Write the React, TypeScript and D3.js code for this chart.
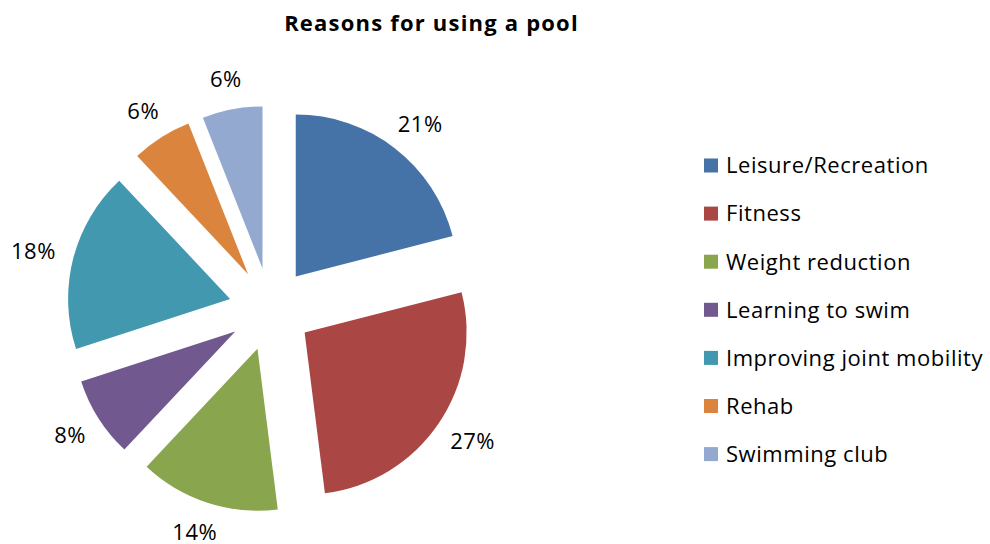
import React from "react";
import * as d3 from "d3";

const categories = [
  "Leisure/Recreation",
  "Fitness",
  "Weight reduction",
  "Learning to swim",
  "Improving joint mobility",
  "Rehab",
  "Swimming club",
];
const values = [21, 27, 14, 8, 18, 6, 6];
const colors = ["#4572A7", "#AA4643", "#89A54E", "#71588F", "#4198AF", "#DB843D", "#93A9CF"];
const title = "Reasons for using a pool";

const W = 990;
const H = 544;
const FONT = "'Open Sans', Lato, sans-serif";

export default function App() {
  const cx = 270.3;
  const cy = 309.2;
  const r = 162;
  const explode = 41.5;
  const labelGap = 19;
  const labelH = 24;
  const capHalf = 7.8;

  const total = d3.sum(values);
  const pie = d3.pie<number>().sort(null).value((d) => d)(values);
  const arc = d3.arc<d3.PieArcDatum<number>>().innerRadius(0).outerRadius(r);

  const legendX = 704;
  const legendY0 = 165.5;
  const legendStep = 48.1;

  return (
    <svg
      width={W}
      height={H}
      style={{ position: "absolute", left: 0, top: 0, background: "#fff" }}
      fontFamily={FONT}
    >
      <rect width={W} height={H} fill="#fff" />
      <text
        x={431.5}
        y={31}
        textAnchor="middle"
        fontSize={22}
        fontWeight="bold"
        letterSpacing={1.2}
        fill="#000"
      >
        {title}
      </text>
      <g>
        {pie.map((p, i) => {
          const mid = (p.startAngle + p.endAngle) / 2;
          const ux = Math.sin(mid);
          const uy = -Math.cos(mid);
          const ox = cx + explode * ux;
          const oy = cy + explode * uy;
          const pct = Math.round((values[i] / total) * 100) + "%";
          const w = pct.length * 14.7;
          const lx = ox + (r + labelGap) * ux + (ux * w) / 2;
          const ly = oy + (r + labelGap) * uy + (uy * labelH) / 2;
          return (
            <g key={categories[i]}>
              <path d={arc(p) || ""} transform={`translate(${ox},${oy})`} fill={colors[i]} />
              <text
                x={lx}
                y={ly + capHalf}
                textAnchor="middle"
                fontSize={22}
                letterSpacing={0.5}
                fill="#000"
              >
                {pct}
              </text>
            </g>
          );
        })}
      </g>
      <g>
        {categories.map((c, i) => {
          const y = legendY0 + i * legendStep;
          return (
            <g key={c}>
              <rect x={legendX} y={y - 7} width={14} height={14} fill={colors[i]} />
              <text x={726} y={y + capHalf} fontSize={22} letterSpacing={0.55} fill="#000">
                {c}
              </text>
            </g>
          );
        })}
      </g>
    </svg>
  );
}
